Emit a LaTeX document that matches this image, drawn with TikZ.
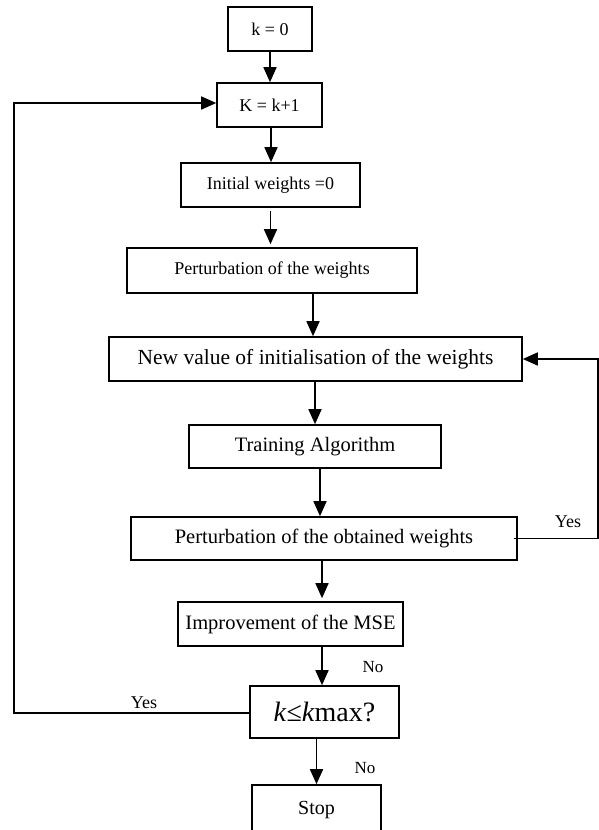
\documentclass[tikz,border=0pt]{standalone}
\usepackage{fontspec}
\setmainfont{Liberation Serif}
\usetikzlibrary{arrows.meta,calc}
\begin{document}
\begin{tikzpicture}[x=1pt,y=-1pt,
  box/.style={draw,line width=1.6pt,inner sep=0pt,align=center},
  tip/.style={-{Triangle[length=15pt,width=13pt]}},
  arr/.style={line width=1.6pt,tip},
  ln/.style={line width=1.6pt},
  lbl/.style={inner sep=0pt,font=\fontsize{18}{20}\selectfont}]
\useasboundingbox (0,0) rectangle (599,830);
\node[box,minimum width=84pt,minimum height=44pt,font=\fontsize{18}{20}\selectfont] (k0) at (270,29) {k = 0};
\node[box,minimum width=105pt,minimum height=44pt,font=\fontsize{18}{20}\selectfont] (K) at (269.5,105) {K = k+1};
\node[box,minimum width=179pt,minimum height=44pt,font=\fontsize{18}{20}\selectfont] (init) at (270.5,185) {Initial weights =0};
\node[box,minimum width=290pt,minimum height=45pt,font=\fontsize{18}{20}\selectfont] (pert) at (272,270.5) {Perturbation of the weights};
\node[box,minimum width=413pt,minimum height=44pt,font=\fontsize{21.5}{24}\selectfont] (newv) at (315.5,359) {New value of initialisation of the weights};
\node[box,minimum width=252pt,minimum height=43pt,font=\fontsize{20.5}{23}\selectfont] (train) at (315,446.5) {Training Algorithm};
\node[box,minimum width=386pt,minimum height=43pt,font=\fontsize{20.5}{23}\selectfont] (pobt) at (324,538.5) {Perturbation of the obtained weights};
\node[box,minimum width=225pt,minimum height=44pt,font=\fontsize{20.5}{23}\selectfont] (impr) at (290.5,624) {Improvement of the MSE};
\node[box,minimum width=149pt,minimum height=52pt,font=\fontsize{28}{30}\selectfont] (kmax) at (324.5,712) {\textit{k}≤\textit{k}max?};
\node[box,minimum width=129pt,minimum height=50pt,font=\fontsize{20}{22}\selectfont] (stop) at (316.5,810) {Stop};
% vertical flow
\draw[arr] (k0.south) -- (k0.south |- K.north);
\draw[arr] ([xshift=1.5pt]K.south) -- ([xshift=1.5pt]K.south |- init.north);
\draw[arr] ([yshift=-3pt]init.south) -- ([yshift=3pt]init.south |- pert.north);
\draw[arr] ([xshift=41pt]pert.south) -- ([xshift=41pt]pert.south |- newv.north);
\draw[arr] (newv.south -| train.north) -- (train.north);
\draw[arr] ([xshift=5pt]train.south) -- ([xshift=5pt]train.south |- pobt.north);
\draw[arr] ([xshift=-2pt]pobt.south) -- ([xshift=-2pt,yshift=3pt]pobt.south |- impr.north);
\coordinate (c1) at ([xshift=-2.5pt]kmax.north);
\draw[arr] (impr.south -| c1) -- (c1);
\draw[arr] (kmax.south -| stop.north) -- (stop.north);
% loops
\coordinate (xr) at (598,0);
\coordinate (xl) at (14,0);
\coordinate (r1) at ([xshift=-4pt]pobt.east);
\draw[ln,tip] (r1) -- (r1 -| xr) -- (xr |- newv.east) -- (newv.east);
\coordinate (l1) at ([yshift=-1pt]kmax.west);
\coordinate (k1) at ([yshift=2pt]K.west);
\draw[ln,tip] (l1) -- (l1 -| xl) -- (xl |- k1) -- (k1);
% labels
\node[lbl,anchor=center] (y1) at (568,522) {Yes};
\node[lbl,anchor=center,font=\fontsize{17}{19}\selectfont] (n1) at (373,667) {No};
\node[lbl,anchor=center] (y2) at (144,703) {Yes};
\node[lbl,anchor=center,font=\fontsize{17}{19}\selectfont] (n2) at (365,768) {No};
\end{tikzpicture}
\end{document}
